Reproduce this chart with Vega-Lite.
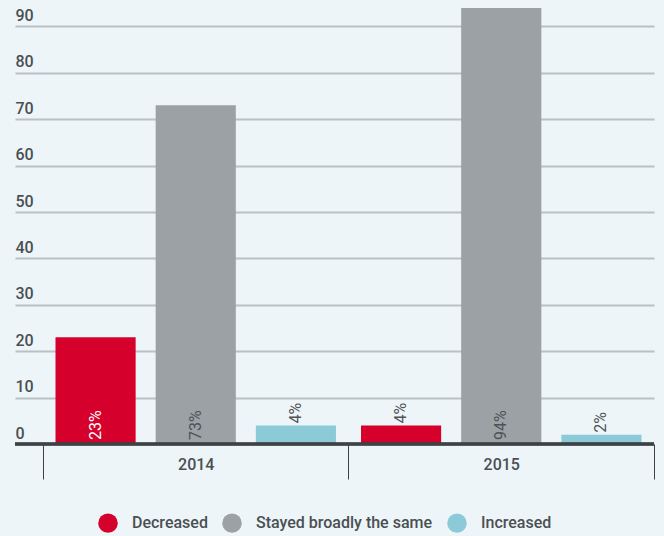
{
  "$schema": "https://vega.github.io/schema/vega-lite/v6.json",
  "width": 639,
  "height": 444,
  "padding": {"left": 15, "top": 0, "right": 10, "bottom": 92},
  "autosize": {"type": "none"},
  "background": "#edf5f8",
  "config": {"font": "Roboto", "view": {"stroke": null}},
  "data": {
    "values": [
      {"year": "2014", "change": "Decreased", "value": 23},
      {"year": "2014", "change": "Stayed broadly the same", "value": 73},
      {"year": "2014", "change": "Increased", "value": 4},
      {"year": "2015", "change": "Decreased", "value": 4},
      {"year": "2015", "change": "Stayed broadly the same", "value": 94},
      {"year": "2015", "change": "Increased", "value": 2}
    ]
  },
  "transform": [{"calculate": "datum.value + '%'", "as": "label"}],
  "layer": [
    {
      "mark": {"type": "bar"},
      "encoding": {
        "x": {
          "field": "year", "type": "nominal",
          "scale": {"paddingInner": 0, "paddingOuter": 0.0458, "align": 1},
          "axis": {
            "title": null, "domain": false, "labelAngle": 0,
            "tickBand": "extent", "tickSize": 35, "tickColor": "#3d4245", "tickWidth": 1,
            "labelPadding": -23, "labelBaseline": "top",
            "labelFontSize": 16, "labelFontWeight": 500, "labelColor": "#4a4f52"
          }
        },
        "xOffset": {
          "field": "change", "type": "nominal",
          "sort": ["Decreased", "Stayed broadly the same", "Increased"],
          "scale": {"paddingInner": 0.2, "paddingOuter": 0.125}
        },
        "y": {
          "field": "value", "type": "quantitative",
          "scale": {"domain": [0, 95.7], "nice": false},
          "axis": {
            "title": null, "domain": false, "ticks": false,
            "values": [0, 10, 20, 30, 40, 50, 60, 70, 80, 90],
            "grid": true, "gridColor": "#bac1c4", "gridWidth": 2,
            "labelAlign": "left", "labelPadding": 0, "labelBaseline": "alphabetic",
            "labelOffset": -6, "labelFontSize": 16, "labelFontWeight": 500,
            "labelColor": "#4a4f52"
          }
        },
        "color": {
          "field": "change", "type": "nominal",
          "scale": {
            "domain": ["Decreased", "Stayed broadly the same", "Increased"],
            "range": ["#d5002b", "#9ba1a4", "#8ccad7"]
          },
          "legend": {
            "title": null, "orient": "none", "direction": "horizontal",
            "legendX": 83, "legendY": 513,
            "symbolType": "circle", "symbolSize": 380, "symbolOpacity": 1,
            "symbolStrokeWidth": 0, "labelFontSize": 16, "labelFontWeight": 500,
            "labelColor": "#4a4f52", "columnPadding": 14, "labelOffset": 14,
            "labelLimit": 0
          }
        }
      }
    },
    {
      "transform": [{"filter": "datum.value >= 10"}],
      "mark": {"type": "text", "angle": -90, "align": "left", "baseline": "middle", "dx": 4, "fontSize": 16},
      "encoding": {
        "x": {"field": "year", "type": "nominal"},
        "xOffset": {"field": "change", "type": "nominal", "sort": ["Decreased", "Stayed broadly the same", "Increased"]},
        "y": {"datum": 0},
        "text": {"field": "label"},
        "color": {
          "condition": {"test": "datum.change === 'Decreased'", "value": "#ffffff"},
          "value": "#4d5356"
        }
      }
    },
    {
      "transform": [{"filter": "datum.value < 10"}],
      "mark": {"type": "text", "angle": -90, "align": "left", "baseline": "middle", "dx": 2, "fontSize": 16, "color": "#4d5356"},
      "encoding": {
        "x": {"field": "year", "type": "nominal"},
        "xOffset": {"field": "change", "type": "nominal", "sort": ["Decreased", "Stayed broadly the same", "Increased"]},
        "y": {"field": "value", "type": "quantitative"},
        "text": {"field": "label"}
      }
    },
    {
      "mark": {"type": "rule", "color": "#3d4245", "strokeWidth": 2.5},
      "encoding": {"y": {"datum": 0}}
    }
  ]
}
